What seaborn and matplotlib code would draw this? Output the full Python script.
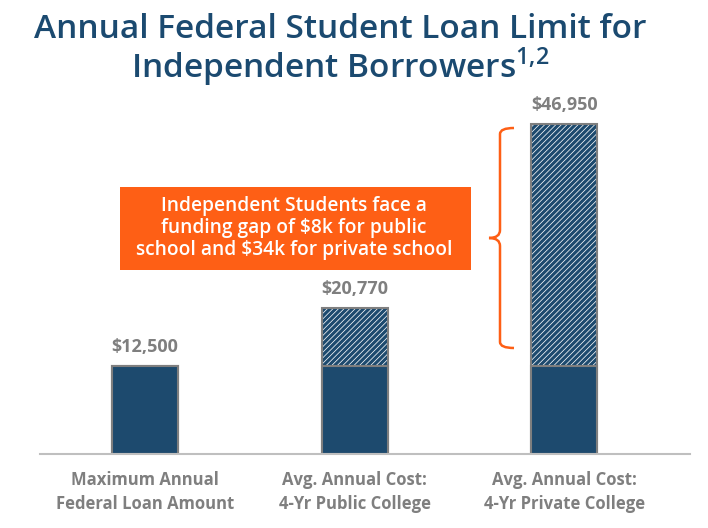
import matplotlib
matplotlib.use("Agg")
import matplotlib.pyplot as plt
import seaborn as sns
import pandas as pd
from matplotlib.colors import to_rgba
from matplotlib.path import Path
from matplotlib.patches import PathPatch, Rectangle

# data
categories = ["Maximum Annual\nFederal Loan Amount",
              "Avg. Annual Cost:\n4-Yr Public College",
              "Avg. Annual Cost:\n4-Yr Private College"]
loan_limit = [12500, 12500, 12500]
total_cost = [12500, 20770, 46950]
value_labels = ["$12,500", "$20,770", "$46,950"]
callout = "Independent Students face a\nfunding gap of $8k for public\nschool and $34k for private school"

navy = "#1d4a6e"
orange = "#fe5f15"
gray = "#7f7f7f"

sns.set_theme(style="white")
plt.rcParams["font.family"] = ["Open Sans", "DejaVu Sans"]
plt.rcParams["mathtext.fontset"] = "custom"
plt.rcParams["mathtext.rm"] = "Open Sans:semibold"
plt.rcParams["hatch.linewidth"] = 2.3

df = pd.DataFrame({"category": categories, "limit": loan_limit, "cost": total_cost})

fig = plt.figure(figsize=(7.08, 5.28), dpi=100)
ax = fig.add_axes([40 / 708, 74 / 528, 650 / 708, 354 / 528])

# full cost bar (hatched gap part), then the loan limit drawn on top
sns.barplot(data=df, x="category", y="cost", color="white", width=0.315,
            edgecolor=gray, linewidth=1.5, ax=ax, saturation=1)
for p in ax.patches:
    p.set_facecolor("white")
    p.set_hatch("//////")
    p._hatch_color = to_rgba(navy)
sns.barplot(data=df, x="category", y="limit", color=navy, width=0.315,
            edgecolor=gray, linewidth=1.5, ax=ax, saturation=1)

for i, (v, lab) in enumerate(zip(total_cost, value_labels)):
    ax.annotate(lab, (i, v), xytext=(0, 7), textcoords="offset points",
                ha="center", va="bottom", fontsize=13, fontweight="bold", color=gray)

ax.set_xlim(-0.501, 2.601)
ax.set_ylim(0, 50350)
ax.set_xlabel("")
ax.set_ylabel("")
ax.set_yticks([])
ax.tick_params(axis="x", length=0, pad=12)
for t in ax.get_xticklabels():
    t.set_fontsize(12)
    t.set_fontweight("bold")
    t.set_color(gray)
    t.set_linespacing(1.45)
for s in ["top", "left", "right"]:
    ax.spines[s].set_visible(False)
ax.spines["bottom"].set_color("#bfbfbf")
ax.spines["bottom"].set_linewidth(1.5)

# callout box
fig.patches.append(Rectangle((120 / 708, 1 - 270 / 528), 351 / 708, 83 / 528,
                             transform=fig.transFigure, facecolor=orange,
                             edgecolor="none", zorder=0))
fig.text(294 / 708, 1 - 228 / 528, callout, ha="center", va="center",
         fontsize=13.8, fontweight="semibold", color="white", linespacing=1.15)

# curly bracket spanning the private-college gap
xr, xv, xt = 514, 500, 489
y0, ym, y1 = 128, 238, 348
verts = [(xr, y0), (xv, y0), (xv, y0 + 6), (xv, ym - 8), (xv, ym), (xt, ym),
         (xv, ym), (xv, ym + 8), (xv, y1 - 6), (xv, y1), (xr, y1)]
codes = [Path.MOVETO, Path.CURVE3, Path.CURVE3, Path.LINETO, Path.CURVE3, Path.CURVE3,
         Path.CURVE3, Path.CURVE3, Path.LINETO, Path.CURVE3, Path.CURVE3]
verts = [(x / 708, 1 - y / 528) for x, y in verts]
fig.patches.append(PathPatch(Path(verts, codes), transform=fig.transFigure,
                             facecolor="none", edgecolor=orange, linewidth=1.8))

fig.text(340 / 708, 1 - 29 / 528, "Annual Federal Student Loan Limit for",
         ha="center", va="center", fontsize=24, fontweight="semibold", color="#1b4a70")
fig.text(340 / 708, 1 - 67 / 528, r"Independent Borrowers$^{\mathrm{1{,}2}}$",
         ha="center", va="center", fontsize=24, fontweight="semibold", color="#1b4a70")

fig.savefig("out.png", dpi=100)
